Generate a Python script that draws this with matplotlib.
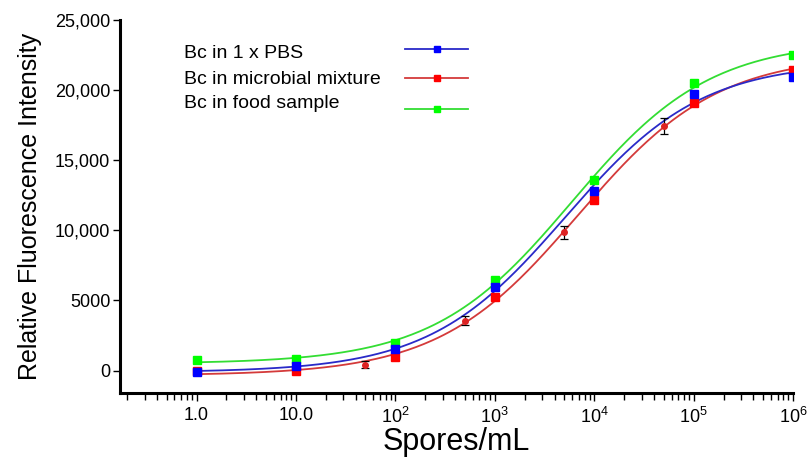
import numpy as np
import matplotlib
matplotlib.use('Agg')
import matplotlib.pyplot as plt
from matplotlib.ticker import LogLocator, NullFormatter, FixedLocator, FixedFormatter
from matplotlib.lines import Line2D

plt.rcParams['font.family'] = ['Liberation Sans', 'DejaVu Sans']
plt.rcParams['mathtext.fontset'] = 'custom'
plt.rcParams['mathtext.rm'] = 'Liberation Sans'

# concentrations (spores/mL)
conc = [1, 10, 100, 1e3, 1e4, 1e5, 1e6]
pbs = [-100, 300, 1520, 5950, 12790, 19710, 20930]
mixture = [-50, 0, 1000, 5240, 12140, 19090, 21400]
food = [720, 800, 2000, 6480, 13570, 20480, 22480]

# replicate means with error bars (microbial mixture)
conc_err = [50, 500, 5000, 5e4]
mixture_err = [430, 3570, 9860, 17430]
mixture_sd = [250, 330, 480, 560]

labels = ['Bc in 1 x PBS', 'Bc in microbial mixture', 'Bc in food sample']
y_ticks = [0, 5000, 10000, 15000, 20000, 25000]
y_ticklabels = ['0', '5000', '10,000', '15,000', '20,000', '25,000']
x_ticks = [1, 10, 100, 1e3, 1e4, 1e5, 1e6]
x_ticklabels = ['1.0', '10.0', r'$\mathregular{10^2}$', r'$\mathregular{10^3}$',
                r'$\mathregular{10^4}$', r'$\mathregular{10^5}$', r'$\mathregular{10^6}$']


def model(p, lx):
    return p[0] + (p[1] - p[0]) / (1.0 + 10.0 ** (p[3] * (p[2] - lx)))


def fit_4pl(x, y):
    # four parameter logistic fit, simple Levenberg-Marquardt
    lx = np.log10(np.asarray(x, float))
    y = np.asarray(y, float)
    p = np.array([y.min(), y.max(), 4.0, 0.8])
    lam = 1e-2
    sse = np.sum((y - model(p, lx)) ** 2)
    for _ in range(500):
        r = y - model(p, lx)
        J = np.empty((len(lx), 4))
        for k in range(4):
            dp = np.zeros(4)
            dp[k] = 1e-6 * max(1.0, abs(p[k]))
            J[:, k] = (model(p + dp, lx) - model(p - dp, lx)) / (2 * dp[k])
        A = J.T @ J
        g = J.T @ r
        step = np.linalg.solve(A + lam * np.diag(np.diag(A)) + 1e-12 * np.eye(4), g)
        new = p + step
        new_sse = np.sum((y - model(new, lx)) ** 2)
        if new_sse < sse:
            p, sse = new, new_sse
            lam *= 0.3
        else:
            lam *= 10
    return p


fig = plt.figure(figsize=(8.1, 4.57), dpi=100)
ax = fig.add_axes([120 / 810, 1 - 393 / 457, 673 / 810, 373 / 457])

series = [
    (mixture, conc + conc_err, mixture + mixture_err, '#ff0000', '#d43a3a'),
    (food, conc, food, '#00ff00', '#33dd33'),
    (pbs, conc, pbs, '#0000ff', '#2a2ac8'),
]

xs = np.logspace(0, 6, 300)
for vals, fx, fy, mcol, lcol in series:
    p = fit_4pl(fx, fy)
    ax.plot(xs, model(p, np.log10(xs)), color=lcol, lw=1.3, zorder=2)

ax.errorbar(conc_err, mixture_err, yerr=mixture_sd, fmt='o', ms=4,
            mfc='#dd2222', mec='#dd2222', ecolor='black', elinewidth=0.9,
            capsize=3, capthick=0.9, zorder=3)

for vals, fx, fy, mcol, lcol in series:
    ax.plot(conc, vals, ls='none', marker='s', ms=6, mfc=mcol, mec=mcol, zorder=4)

ax.set_xscale('log')
ax.set_xlim(0.17, 1e6)
ax.set_ylim(-1600, 25000)

ax.xaxis.set_major_locator(FixedLocator(x_ticks))
ax.xaxis.set_major_formatter(FixedFormatter(x_ticklabels))
ax.xaxis.set_minor_locator(LogLocator(base=10, subs=np.arange(2, 10), numticks=20))
ax.xaxis.set_minor_formatter(NullFormatter())
ax.yaxis.set_major_locator(FixedLocator(y_ticks))
ax.yaxis.set_major_formatter(FixedFormatter(y_ticklabels))

for s in ['top', 'right']:
    ax.spines[s].set_visible(False)
for s in ['left', 'bottom']:
    ax.spines[s].set_linewidth(2.2)

ax.tick_params(axis='y', which='major', direction='out', length=5, width=1.0,
               labelsize=13, pad=2)
ax.tick_params(axis='x', which='major', direction='out', length=6, width=1.0,
               labelsize=13, pad=4)
ax.tick_params(axis='x', which='minor', direction='out', length=5, width=1.0)

ax.set_xlabel('Spores/mL', fontsize=22, labelpad=0)
ax.set_ylabel('Relative Fluorescence Intensity', fontsize=18, labelpad=9)

# legend drawn by hand: text on the left, sample line on the right
leg_rows = [0.91, 0.84, 0.775]
line_rows = [0.922, 0.845, 0.761]
for (vals, fx, fy, mcol, lcol), lab, ty, ly in zip(
        [series[2], series[0], series[1]], labels, leg_rows, line_rows):
    ax.text(0.095, ty, lab, transform=ax.transAxes, fontsize=14,
            va='center', ha='left')
    ax.add_line(Line2D([0.424, 0.517], [ly, ly], transform=ax.transAxes,
                       color=lcol, lw=1.3))
    ax.add_line(Line2D([0.471], [ly], transform=ax.transAxes, marker='s',
                       ms=5, mfc=mcol, mec=mcol, ls='none'))

fig.savefig('out.png', dpi=100)
